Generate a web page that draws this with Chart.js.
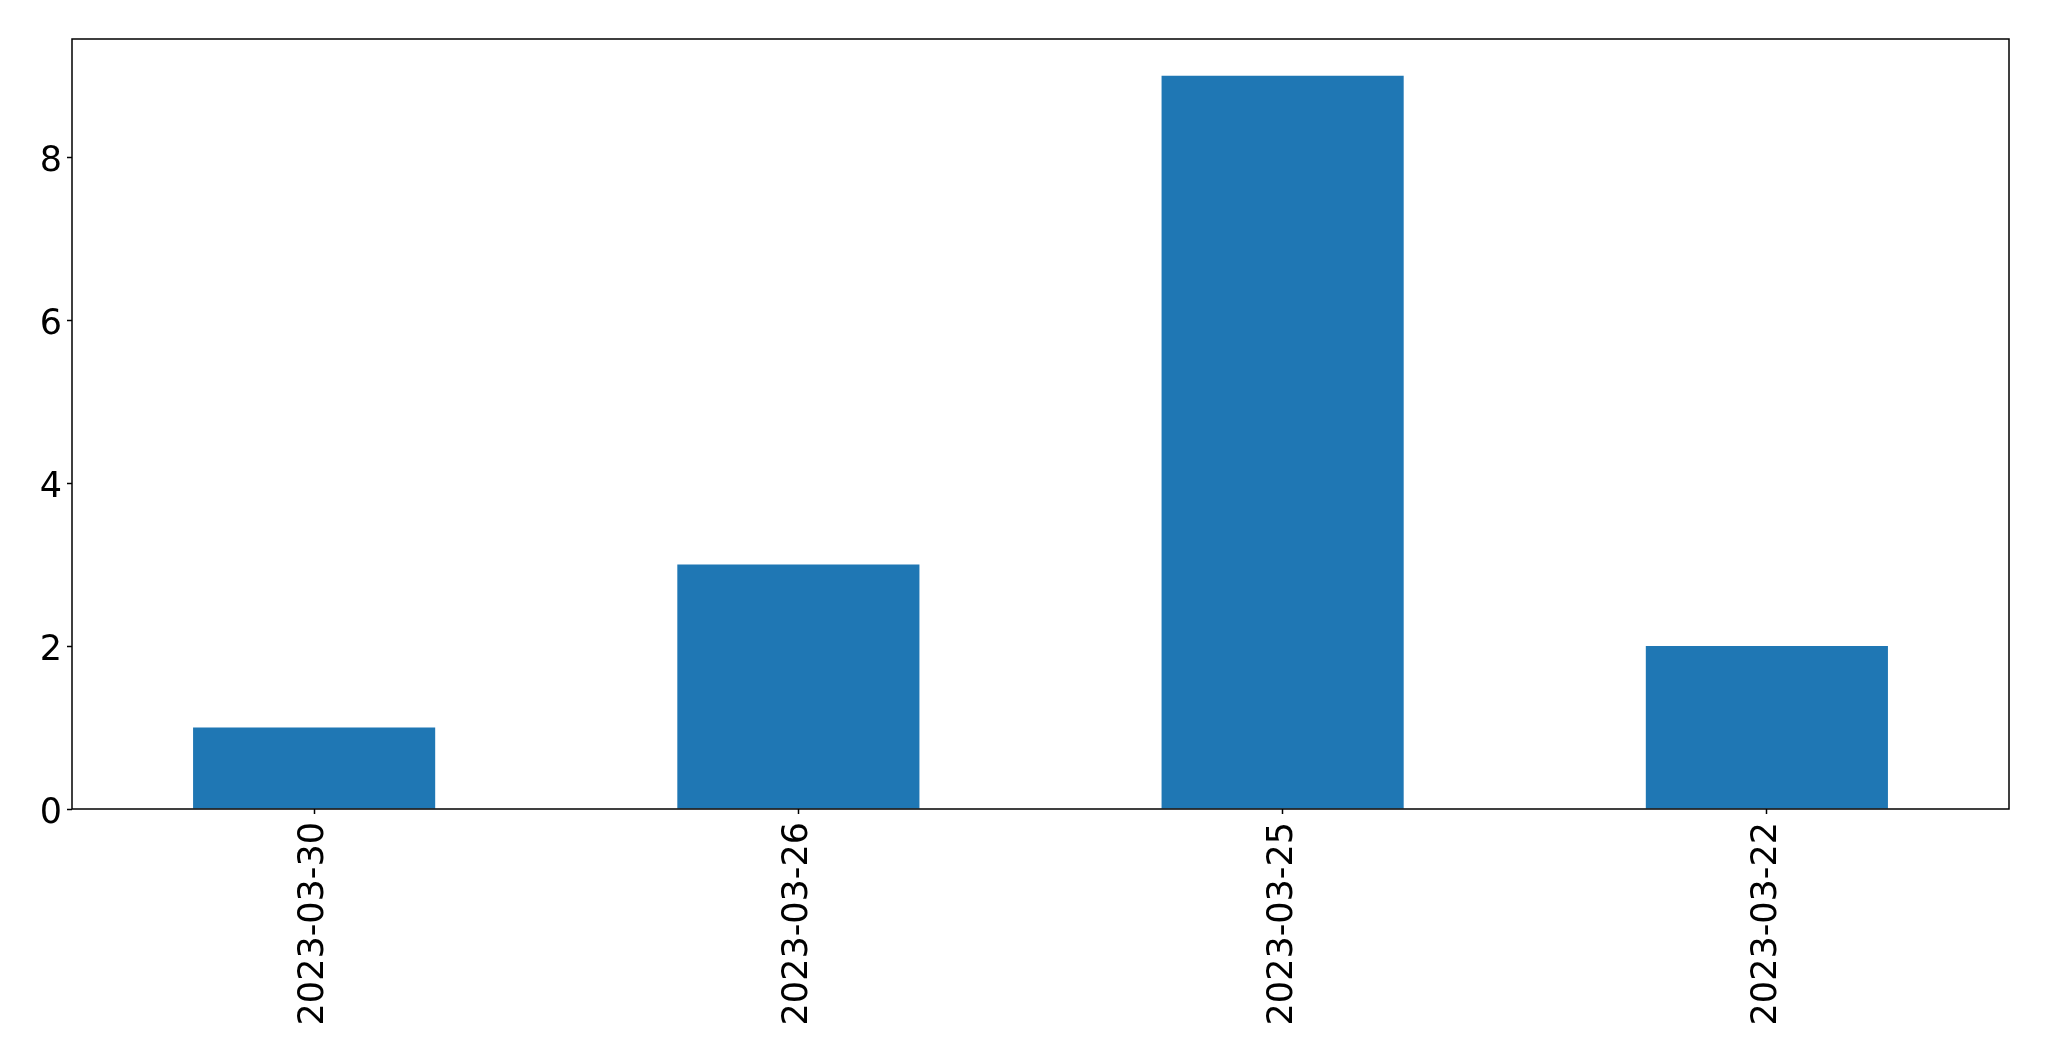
<!DOCTYPE html>
<html>
<head>
<meta charset="utf-8">
<script src="https://cdn.jsdelivr.net/npm/chart.js@4/dist/chart.umd.min.js"></script>
<style>
html,body{margin:0;padding:0;background:#fff;overflow:hidden;}
canvas{display:block;}
</style>
</head>
<body>
<canvas id="c" width="2049" height="1061"></canvas>
<script>
const categories = ["2023-03-30", "2023-03-26", "2023-03-25", "2023-03-22"];
const values = [1, 3, 9, 2];
const yTicks = [0, 2, 4, 6, 8];
const yMax = 9.45;

const frame = {
  id: 'frame',
  afterDraw(chart) {
    const {ctx, chartArea: a} = chart;
    ctx.save();
    ctx.strokeStyle = '#000';
    ctx.lineWidth = 1.5;
    ctx.strokeRect(a.left, a.top, a.right - a.left, a.bottom - a.top);
    ctx.restore();
  }
};

new Chart(document.getElementById('c'), {
  type: 'bar',
  data: {
    labels: categories,
    datasets: [{
      data: values,
      backgroundColor: '#1f77b4',
      categoryPercentage: 1.0,
      barPercentage: 0.5
    }]
  },
  options: {
    responsive: false,
    animation: false,
    devicePixelRatio: 1,
    layout: { padding: { top: 39, right: 40, left: 0, bottom: 0 } },
    plugins: { legend: { display: false }, tooltip: { enabled: false } },
    scales: {
      x: {
        afterFit(s) { s.height = 252; },
        grid: { display: true, offset: false, drawOnChartArea: false, tickLength: 5, tickColor: '#000', tickWidth: 1.5 },
        border: { display: false },
        ticks: {
          minRotation: 90, maxRotation: 90, autoSkip: false, padding: 8,
          color: '#000', font: { family: 'DejaVu Sans', size: 35 }
        }
      },
      y: {
        min: 0, max: yMax,
        afterFit(s) { s.width = 72; },
        afterBuildTicks(s) { s.ticks = yTicks.map(v => ({ value: v })); },
        grid: { display: true, drawOnChartArea: false, tickLength: 5, tickColor: '#000', tickWidth: 1.5 },
        border: { display: false },
        ticks: {
          padding: 5, labelOffset: 5,
          color: '#000', font: { family: 'DejaVu Sans', size: 35 }
        }
      }
    }
  },
  plugins: [frame]
});
</script>
</body>
</html>
